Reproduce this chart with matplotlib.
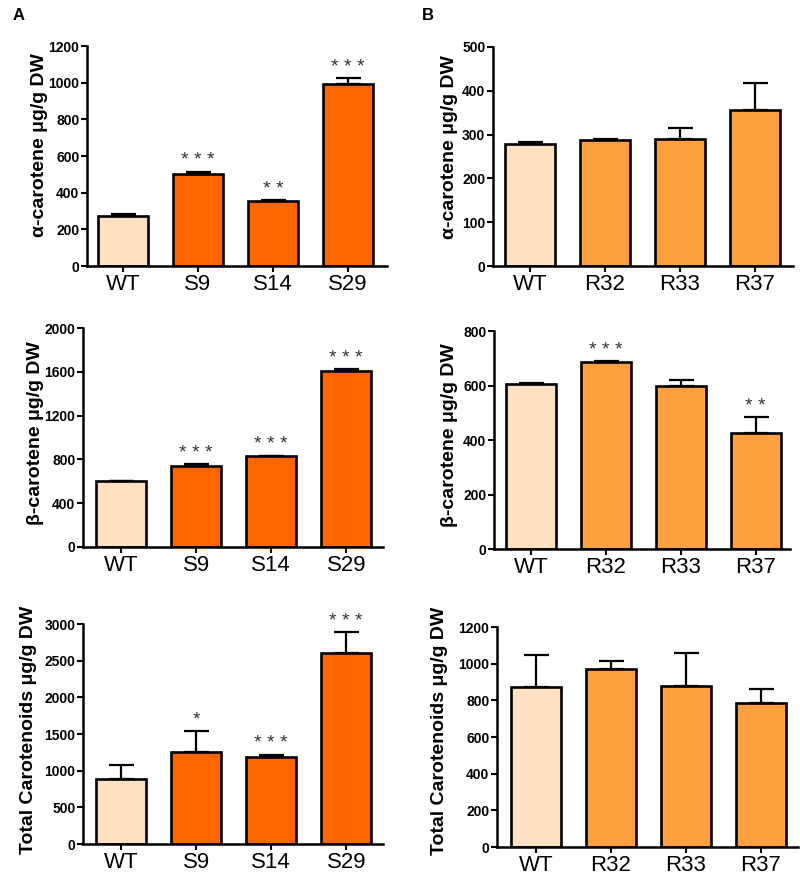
import matplotlib
matplotlib.use("Agg")
import matplotlib.pyplot as plt
import numpy as np

plt.rcParams['font.family'] = ['Liberation Sans', 'DejaVu Sans']

# ---------------- data ----------------
groups_A = ['WT', 'S9', 'S14', 'S29']
groups_B = ['WT', 'R32', 'R33', 'R37']

alpha_A = [273, 501, 355, 993]
alpha_A_err = [8, 14, 3, 30]
alpha_A_sig = ['', '* * *', '* *', '* * *']

alpha_B = [278, 287, 290, 357]
alpha_B_err = [5, 3, 26, 61]
alpha_B_sig = ['', '', '', '']

beta_A = [600, 737, 831, 1607]
beta_A_err = [0, 18, 3, 16]
beta_A_sig = ['', '* * *', '* * *', '* * *']

beta_B = [604, 685, 598, 427]
beta_B_err = [5, 5, 22, 58]
beta_B_sig = ['', '* * *', '', '* *']

total_A = [888, 1252, 1188, 2599]
total_A_err = [187, 287, 32, 287]
total_A_sig = ['', '*', '* * *', '* * *']

total_B = [873, 969, 880, 784]
total_B_err = [174, 44, 178, 80]
total_B_sig = ['', '', '', '']

yticks_alpha_A = [0, 200, 400, 600, 800, 1000, 1200]
yticks_alpha_B = [0, 100, 200, 300, 400, 500]
yticks_beta_A = [0, 400, 800, 1200, 1600, 2000]
yticks_beta_B = [0, 200, 400, 600, 800]
yticks_total_A = [0, 500, 1000, 1500, 2000, 2500, 3000]
yticks_total_B = [0, 200, 400, 600, 800, 1000, 1200]

label_alpha = 'α-carotene μg/g DW'
label_beta = 'β-carotene μg/g DW'
label_total = 'Total Carotenoids μg/g DW'

# ---------------- style ----------------
WT_COLOR = '#FFE0C0'
A_COLOR = '#FF6600'
B_COLOR = '#FFA040'

W, H = 800, 880
fig = plt.figure(figsize=(W / 100, H / 100), dpi=100)


def make_axes(left, right, top, bottom):
    return fig.add_axes([left / W, 1 - bottom / H, (right - left) / W, (bottom - top) / H])


panels = [
    ((87, 387, 46, 266), groups_A, alpha_A, alpha_A_err, alpha_A_sig, yticks_alpha_A, A_COLOR, label_alpha, (-0.48, 3.52), (-0.13, 0.55)),
    ((493, 793, 47, 266), groups_B, alpha_B, alpha_B_err, alpha_B_sig, yticks_alpha_B, B_COLOR, label_alpha, (-0.49, 3.51), (-0.117, 0.545)),
    ((83, 383, 328, 547), groups_A, beta_A, beta_A_err, beta_A_sig, yticks_beta_A, A_COLOR, label_beta, (-0.51, 3.49), (-0.13, 0.52)),
    ((494, 790, 331, 549), groups_B, beta_B, beta_B_err, beta_B_sig, yticks_beta_B, B_COLOR, label_beta, (-0.49, 3.46), (-0.12, 0.523)),
    ((83, 383, 624, 844), groups_A, total_A, total_A_err, total_A_sig, yticks_total_A, A_COLOR, label_total, (-0.51, 3.49), (-0.153, 0.52)),
    ((497, 798, 627, 847), groups_B, total_B, total_B_err, total_B_sig, yticks_total_B, B_COLOR, label_total, (-0.52, 3.5), (-0.162, 0.526)),
]

for box, groups, vals, errs, sig, yticks, color, ylabel, xlim, lc in panels:
    ax = make_axes(*box)
    x = np.arange(len(groups))
    colors = [WT_COLOR] + [color] * (len(groups) - 1)
    ax.bar(x, vals, width=0.667, color=colors, edgecolor='black', linewidth=1.9, zorder=2)
    ax.errorbar(x, vals, yerr=[np.zeros(len(vals)), errs], fmt='none', ecolor='black',
                elinewidth=1.6, capsize=9, capthick=1.6, zorder=3)
    for xi, v, e, s in zip(x, vals, errs, sig):
        if s:
            ax.annotate(s, (xi, v + e), xytext=(0, 4.5), textcoords='offset points',
                        ha='center', va='baseline', fontsize=14, color='#333333')
    ax.set_xlim(*xlim)
    ax.set_ylim(yticks[0], yticks[-1])
    ax.set_yticks(yticks)
    ax.set_yticklabels([str(t) for t in yticks], fontsize=10, fontweight='bold')
    ax.set_xticks(x)
    ax.set_xticklabels(groups, fontsize=16)
    ax.tick_params(axis='x', length=4, width=1.5, pad=2)
    ax.tick_params(axis='y', length=4, width=1.5, pad=1.5)
    for sp in ['top', 'right']:
        ax.spines[sp].set_visible(False)
    for sp in ['left', 'bottom']:
        ax.spines[sp].set_linewidth(1.8)
    ax.set_ylabel(ylabel, fontsize=14, fontweight='bold')
    ax.yaxis.set_label_coords(*lc)

fig.text(13 / W, 1 - 16 / H, 'A', fontsize=12, fontweight='bold', ha='left', va='center')
fig.text(422 / W, 1 - 16 / H, 'B', fontsize=12, fontweight='bold', ha='left', va='center')

fig.savefig('out.png', dpi=100)
